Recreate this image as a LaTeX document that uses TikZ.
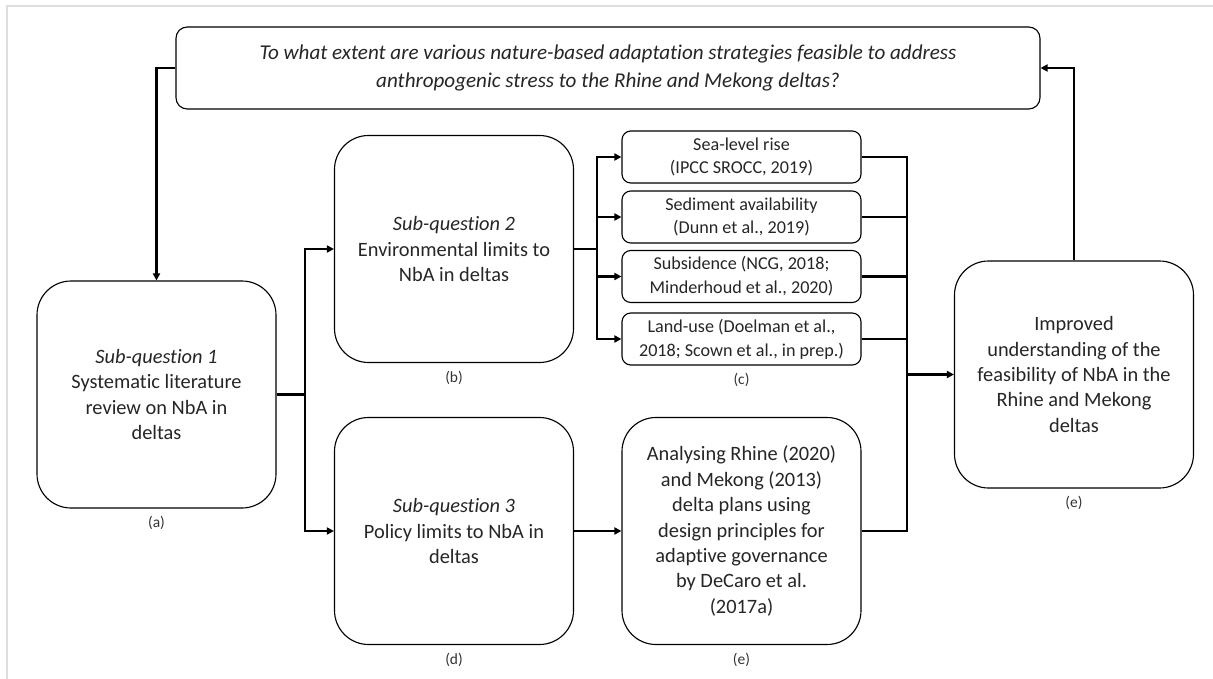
\documentclass[tikz,border=0pt]{standalone}
\usepackage{fontspec}
\setmainfont{Carlito}[Ligatures=NoCommon]
\usepackage{tikz}
\usetikzlibrary{positioning,arrows.meta}

\begin{document}
\begin{tikzpicture}[
  bigbox/.style={
    rectangle, draw, rounded corners=0.85cm,
    minimum width=5.975cm, minimum height=5.675cm,
    font=\fontsize{14.5}{18.1}\selectfont, align=center,
    text=black!85, line width=0.8pt, fill=white
  },
  smallbox/.style={bigbox, rounded corners=0.22cm,
    minimum height=1.3cm, font=\fontsize{12.9}{17}\selectfont},
  qbox/.style={bigbox, rounded corners=0.28cm,
    minimum width=21.6cm, minimum height=2.05cm,
    font=\fontsize{15}{19.9}\selectfont\itshape},
  tag/.style={font=\fontsize{11}{12}\selectfont, text=black!80, inner sep=1pt},
  conn/.style={line width=1.6pt},
  arr/.style={conn, -{Triangle[length=5pt,width=5pt]}}
]
\useasboundingbox (0,0) rectangle (30.325,-16.975);

% Frame
\draw[black!13, line width=1.4pt] (30.325,-0.15) -- (0.175,-0.15) -- (0.175,-16.975);

% Boxes
\node[qbox] (Q) at (15.2,-1.7) {To what extent are various nature-based adaptation strategies feasible to address\\
  anthropogenic stress to the Rhine and Mekong deltas?};

\node[bigbox] (A) at (3.9125,-9.8625) {\textit{Sub-question 1}\\
  Systematic literature\\ review on NbA in\\ deltas};

\node[bigbox] (B) at (11.35,-6.225) {\textit{Sub-question 2}\\
  Environmental limits to\\ NbA in deltas};

\node[bigbox] (D) at (11.35,-13.275) {\textit{Sub-question 3}\\
  Policy limits to NbA in\\ deltas};

\node[smallbox] (C1) at (18.5375,-3.925) {Sea-level rise\\ (IPCC SROCC, 2019)};
\node[smallbox] (C2) at (18.5375,-5.425) {Sediment availability\\ (Dunn et al., 2019)};
\node[smallbox] (C3) at (18.5375,-6.9125) {Subsidence (NCG, 2018;\\ Minderhoud et al., 2020)};
\node[smallbox] (C4) at (18.5375,-8.475) {Land-use (Doelman et al.,\\ 2018; Scown et al., in prep.)};

\node[bigbox] (E) at (18.5375,-13.275) {Analysing Rhine (2020)\\ and Mekong (2013)\\
  delta plans using\\ design principles for\\ adaptive governance\\
  by DeCaro et al.\\ (2017a)};

\node[bigbox] (R) at (26.85,-9.3625) {Improved\\ understanding of the\\
  feasibility of NbA in the\\ Rhine and Mekong\\ deltas};

% Tags
\node[tag, below=0.16cm of A] (tagA) {(a)};
\node[tag, below=0.16cm of B] (tagB) {(b)};
\node[tag, below=0.16cm of C4] (tagC) {(c)};
\node[tag, below=0.16cm of D] (tagD) {(d)};
\node[tag, below=0.16cm of E] (tagE) {(e)};
\node[tag, below=0.16cm of R] (tagR) {(e)};

% Junctions
\coordinate (J1) at (7.625,-9.8625);
\coordinate (J2) at (14.925,-6.225);
\coordinate (J3) at (22.675,-9.3625);

% Edges
\draw[arr] (Q.west) -| (A.north);
\draw[conn] (A.east) -- (J1);
\draw[arr] (J1) |- (B.west);
\draw[arr] (J1) |- (D.west);
\draw[conn] (B.east) -- (J2);
\foreach \c in {C1,C2,C3,C4}
  \draw[arr] (J2) |- (\c.west);
\foreach \c in {C1,C2,C3,C4,E}
  \draw[conn] (\c.east) -| (J3);
\draw[arr] (D.east) -- (E.west);
\draw[arr] (J3) -- (R.west);
\draw[arr] (R.north) |- (Q.east);

\end{tikzpicture}
\end{document}
